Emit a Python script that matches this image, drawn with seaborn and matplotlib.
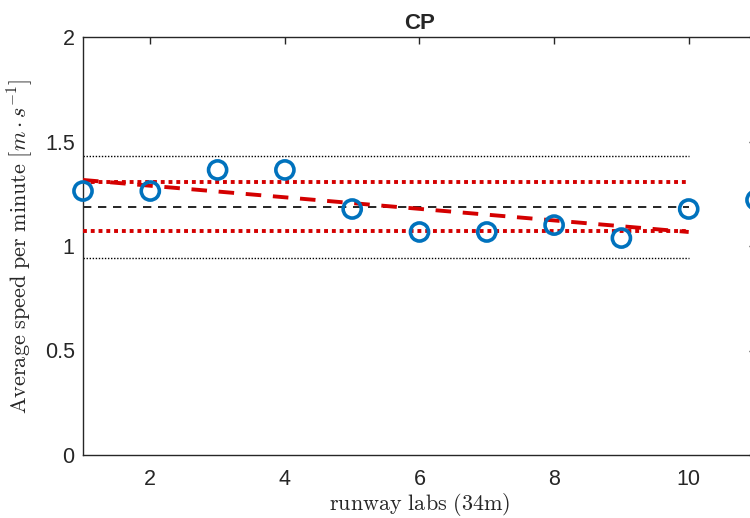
import matplotlib
matplotlib.use("Agg")
import matplotlib.pyplot as plt
import seaborn as sns
import pandas as pd

# data
laps = [1, 2, 3, 4, 5, 6, 7, 8, 9, 10, 11]
speed = [1.263, 1.263, 1.364, 1.364, 1.177, 1.067, 1.067, 1.100, 1.038, 1.177, 1.22]
mean_level = 1.187
sd1_levels = [1.306, 1.072]
sd2_levels = [1.431, 0.943]
line_span = [1, 10]
trend_x = [1, 10]
trend_y = [1.316, 1.067]
xticks = [2, 4, 6, 8, 10]
yticks = [0, 0.5, 1, 1.5, 2]

sns.set_theme(style="white")
plt.rcParams["font.family"] = ["Liberation Sans", "DejaVu Sans"]
plt.rcParams["mathtext.fontset"] = "cm"

fig = plt.figure(figsize=(7.5, 5.18), dpi=100)
W, H = 750, 518
left, right, top, bottom = 83, 756, 37, 455
ax = fig.add_axes([left / W, 1 - bottom / H, (right - left) / W, (bottom - top) / H])

red = "#D40000"
blue = "#0072BD"

ax.hlines(sd2_levels, line_span[0], line_span[1], colors="black", linestyles=(0, (1, 1.2)), linewidth=1.0, zorder=2)
ax.hlines([mean_level], line_span[0], line_span[1], colors="black", linestyles=(0, (5, 4)), linewidth=1.2, zorder=2)
ax.hlines(sd1_levels, line_span[0], line_span[1], colors=red, linestyles=(0, (1, 1)), linewidth=2.8, zorder=3)
trend = pd.DataFrame({"x": trend_x, "y": trend_y})
sns.lineplot(data=trend, x="x", y="y", ax=ax, color=red, linewidth=2.8, zorder=4)
ax.lines[-1].set_linestyle((0, (4, 3)))

df = pd.DataFrame({"lap": laps, "speed": speed})
sns.scatterplot(data=df, x="lap", y="speed", ax=ax, s=170, marker="o",
                facecolors="none", edgecolor=blue, linewidth=2.6, zorder=5, clip_on=False)

ax.set_xlim(1, 11)
ax.set_ylim(0, 2)
ax.set_xticks(xticks)
ax.set_yticks(yticks)
ax.set_yticklabels(["0", "0.5", "1", "1.5", "2"])
ax.tick_params(direction="in", top=True, right=True, length=5, width=1, colors="#262626",
               labelsize=15.5, labelcolor="#262626")
ax.tick_params(axis="x", pad=10)
ax.tick_params(axis="y", pad=6)
for s in ax.spines.values():
    s.set_color("#262626")
    s.set_linewidth(1.0)

ax.set_xlabel(r"$\mathrm{runway\ labs\ (34m)}$", fontsize=16, color="#262626", labelpad=1)
ax.set_ylabel(r"$\mathrm{Average\ speed\ per\ minute}\ [m \cdot s^{-1}]$", fontsize=16, color="#262626", labelpad=7)
ax.set_title("CP", fontsize=16, fontweight="bold", color="#262626", pad=6)

fig.savefig("out.png", dpi=100)
